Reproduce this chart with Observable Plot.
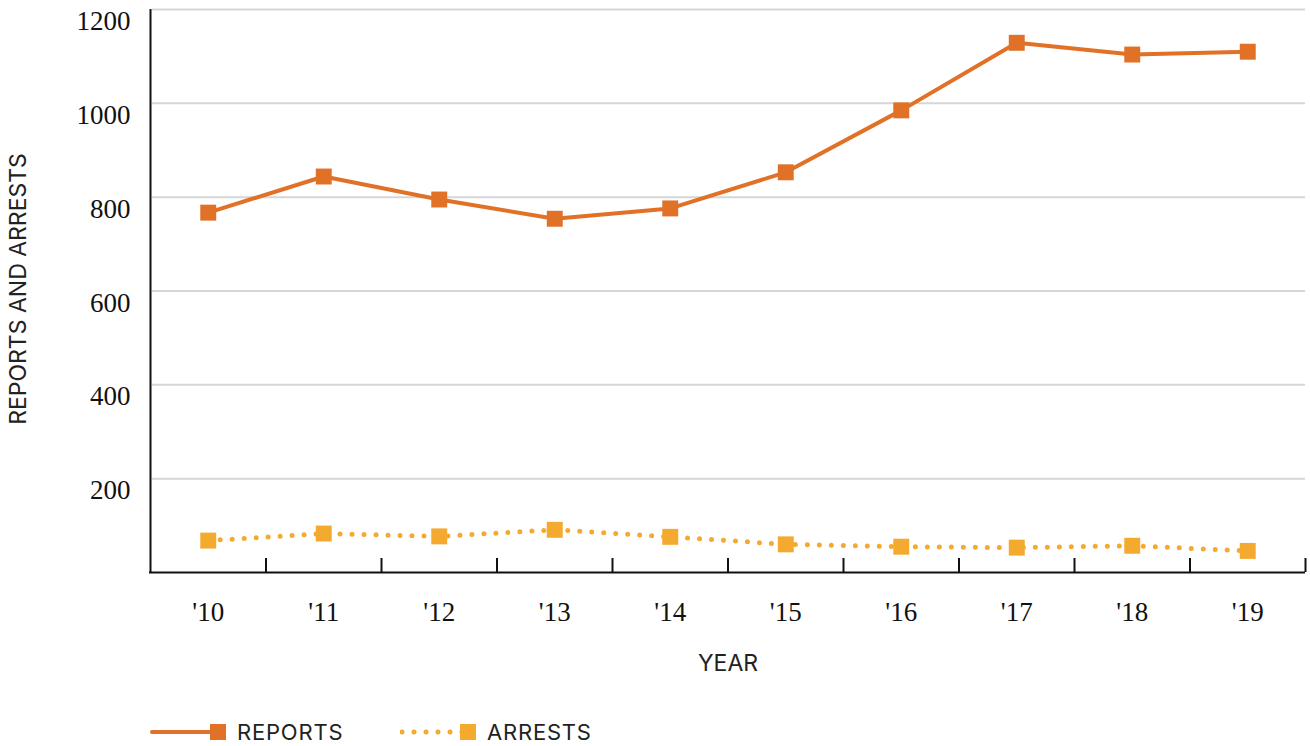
<!DOCTYPE html>
<html>
<head>
<meta charset="utf-8">
<script src="https://cdn.jsdelivr.net/npm/d3@7"></script>
<script src="https://cdn.jsdelivr.net/npm/@observablehq/plot@0.6"></script>
<style>
  html, body { margin: 0; padding: 0; background: #fff; }
  #chart svg { display: block; }
  .legend { position: relative; width: 1310px; height: 46px; font-family: Inter, "Open Sans", sans-serif; font-size: 22px; color: #222; letter-spacing: 0.8px; }
  .legend .item { position: absolute; top: 22px; display: flex; align-items: center; height: 20px; }
  .legend svg { display: block; margin-right: 9px; }
</style>
</head>
<body>
<div id="chart"></div>
<div class="legend" id="legend"></div>
<script>
// Yearly counts
const years = ["'10", "'11", "'12", "'13", "'14", "'15", "'16", "'17", "'18", "'19"];
const reports = [767, 844, 795, 754, 776, 853, 985, 1129, 1104, 1110];
const arrests = [68, 83, 77, 91, 76, 60, 55, 53, 57, 46];
const yTicks = [200, 400, 600, 800, 1000, 1200];
const seriesNames = ["REPORTS", "ARRESTS"];
const seriesColors = ["#e07127", "#f3aa2f"];

const reportRows = years.map((year, i) => ({year, value: reports[i]}));
const arrestRows = years.map((year, i) => ({year, value: arrests[i]}));

const width = 1310, height = 700;
const marginLeft = 150, marginRight = 5, marginTop = 9, marginBottom = 128;
const bw = (width - marginLeft - marginRight) / years.length;
const plotH = height - marginTop - marginBottom;

const sans = "Inter, 'Open Sans', sans-serif";

const chart = Plot.plot({
  width, height, marginLeft, marginRight, marginTop, marginBottom,
  style: {fontFamily: "'Liberation Serif', 'Times New Roman', serif", fontSize: "27px", color: "#111", background: "#fff"},
  x: {type: "band", domain: years, padding: 0, round: false},
  y: {domain: [0, 1200]},
  marks: [
    // horizontal gridlines
    Plot.ruleY(yTicks, {stroke: "#d6d6d6", strokeWidth: 2, insetLeft: 2}),
    // axis lines
    Plot.ruleX([years[0]], {dx: -bw / 2, stroke: "#111", strokeWidth: 2}),
    Plot.ruleY([0], {stroke: "#111", strokeWidth: 2, insetLeft: -1}),
    // boundary ticks between years
    Plot.tickX(years, {x: d => d, dx: bw / 2, insetTop: plotH - 14, stroke: "#111", strokeWidth: 2}),
    Plot.axisY({ticks: yTicks, tickSize: 0, tickPadding: 20, dy: 12, label: null, fill: "#111", tickFormat: d => String(d)}),
    Plot.axisX({tickSize: 0, tickPadding: 29, label: null, fill: "#111"}),
    // axis titles
    Plot.text(["REPORTS AND ARRESTS"], {frameAnchor: "left", textAnchor: "middle", dx: -132, dy: -2, rotate: -90, fontFamily: sans, fontSize: 23, fill: "#222", letterSpacing: 1.2}),
    Plot.text(["YEAR"], {frameAnchor: "bottom", dy: 98, fontFamily: sans, fontSize: 23, fill: "#222", letterSpacing: 1}),
    // series
    Plot.line(arrestRows, {x: "year", y: "value", stroke: seriesColors[1], strokeWidth: 5, strokeDasharray: "0 12", strokeLinecap: "round"}),
    Plot.dot(arrestRows, {x: "year", y: "value", symbol: "square", r: 9, fill: seriesColors[1], stroke: null}),
    Plot.line(reportRows, {x: "year", y: "value", stroke: seriesColors[0], strokeWidth: 4}),
    Plot.dot(reportRows, {x: "year", y: "value", symbol: "square", r: 9, fill: seriesColors[0], stroke: null})
  ]
});
document.getElementById("chart").append(chart);

// legend below the chart
const legend = d3.select("#legend");
const lefts = [150, 400];
seriesNames.forEach((name, i) => {
  const item = legend.append("div").attr("class", "item").style("left", lefts[i] + "px");
  const sw = item.append("svg").attr("width", 78).attr("height", 20);
  const line = sw.append("line").attr("x1", 2).attr("x2", 66).attr("y1", 10).attr("y2", 10)
    .attr("stroke", seriesColors[i]).attr("stroke-linecap", "round");
  if (i === 0) line.attr("stroke-width", 4);
  else line.attr("stroke-width", 5).attr("stroke-dasharray", "0 12");
  sw.append("rect").attr("x", 60).attr("y", 2).attr("width", 16).attr("height", 16).attr("fill", seriesColors[i]);
  item.append("span").text(name);
});
</script>
</body>
</html>
